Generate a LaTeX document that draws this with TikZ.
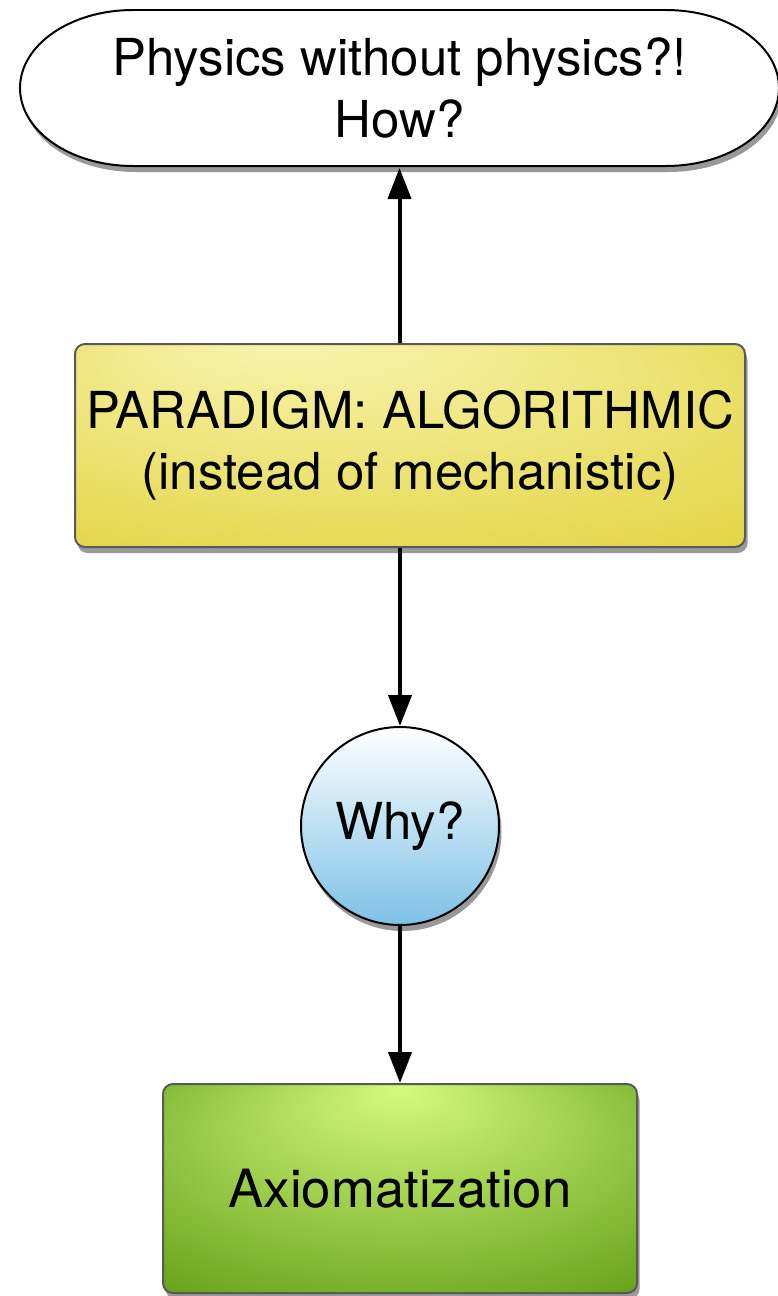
\documentclass[tikz,border=0pt]{standalone}
\usepackage{fontspec}
\setmainfont{TeX Gyre Heros}
\usepackage{tikz}
\usetikzlibrary{arrows.meta,shadows}

\definecolor{yellowlight}{HTML}{FAF5B4}
\definecolor{yellowdark}{HTML}{DCCD28}
\definecolor{bluedark}{HTML}{7DC1E6}
\definecolor{greenlight}{HTML}{D4FA7C}
\definecolor{greendark}{HTML}{4A8A00}

\pgfdeclareradialshading{yellowglow}{\pgfpoint{-10bp}{30bp}}{color(0bp)=(yellowlight); color(52bp)=(yellowdark)}
\pgfdeclareradialshading{greenglow}{\pgfpoint{0bp}{24bp}}{color(0bp)=(greenlight); color(50bp)=(greendark)}

\begin{document}
\begin{tikzpicture}[line width=0.08cm,
    >={Triangle[width=0.46cm,length=0.62cm]},
    softshadow/.style={drop shadow={fill=black, opacity=0.4, shadow xshift=0.05cm, shadow yshift=-0.12cm}},
    txt/.style={font=\fontsize{29}{35}\selectfont, align=center},
    box/.style={txt, draw=black!65, line width=0.04cm, rounded corners=0.2cm, softshadow}]
  \useasboundingbox (0,0) rectangle (15.56,-25.92);

  % question bubble at the top
  \draw[fill=white, line width=0.04cm, softshadow, shift={(7.99,-1.76)}]
    (-5.33,1.56) -- (5.33,1.56) arc[start angle=90,end angle=-90,x radius=2.26,y radius=1.56]
    -- (-5.33,-1.56) arc[start angle=270,end angle=90,x radius=2.26,y radius=1.56] -- cycle;
  \node[txt, minimum width=15.24cm, minimum height=3.12cm] (how) at (7.99,-1.76)
    {Physics without physics?!\\How?};

  \node[box, shading=yellowglow, minimum width=13.4cm, minimum height=4.06cm] (para) at (8.2,-8.91)
    {PARADIGM: ALGORITHMIC\\(instead of mechanistic)};
  \node[txt, circle, draw, line width=0.04cm, minimum size=3.96cm, top color=white, bottom color=bluedark, softshadow] (why) at (8.0,-16.52) {Why?};
  \node[box, shading=greenglow, font=\fontsize{30}{36}\selectfont, minimum width=9.48cm, minimum height=4.18cm] (axiom) at (8.0,-23.77) {Axiomatization};

  \draw[->] (para.north -| how) -- (how);
  \draw[->] (para.south -| why) -- (why);
  \draw[->] (why) -- (axiom);
\end{tikzpicture}
\end{document}
